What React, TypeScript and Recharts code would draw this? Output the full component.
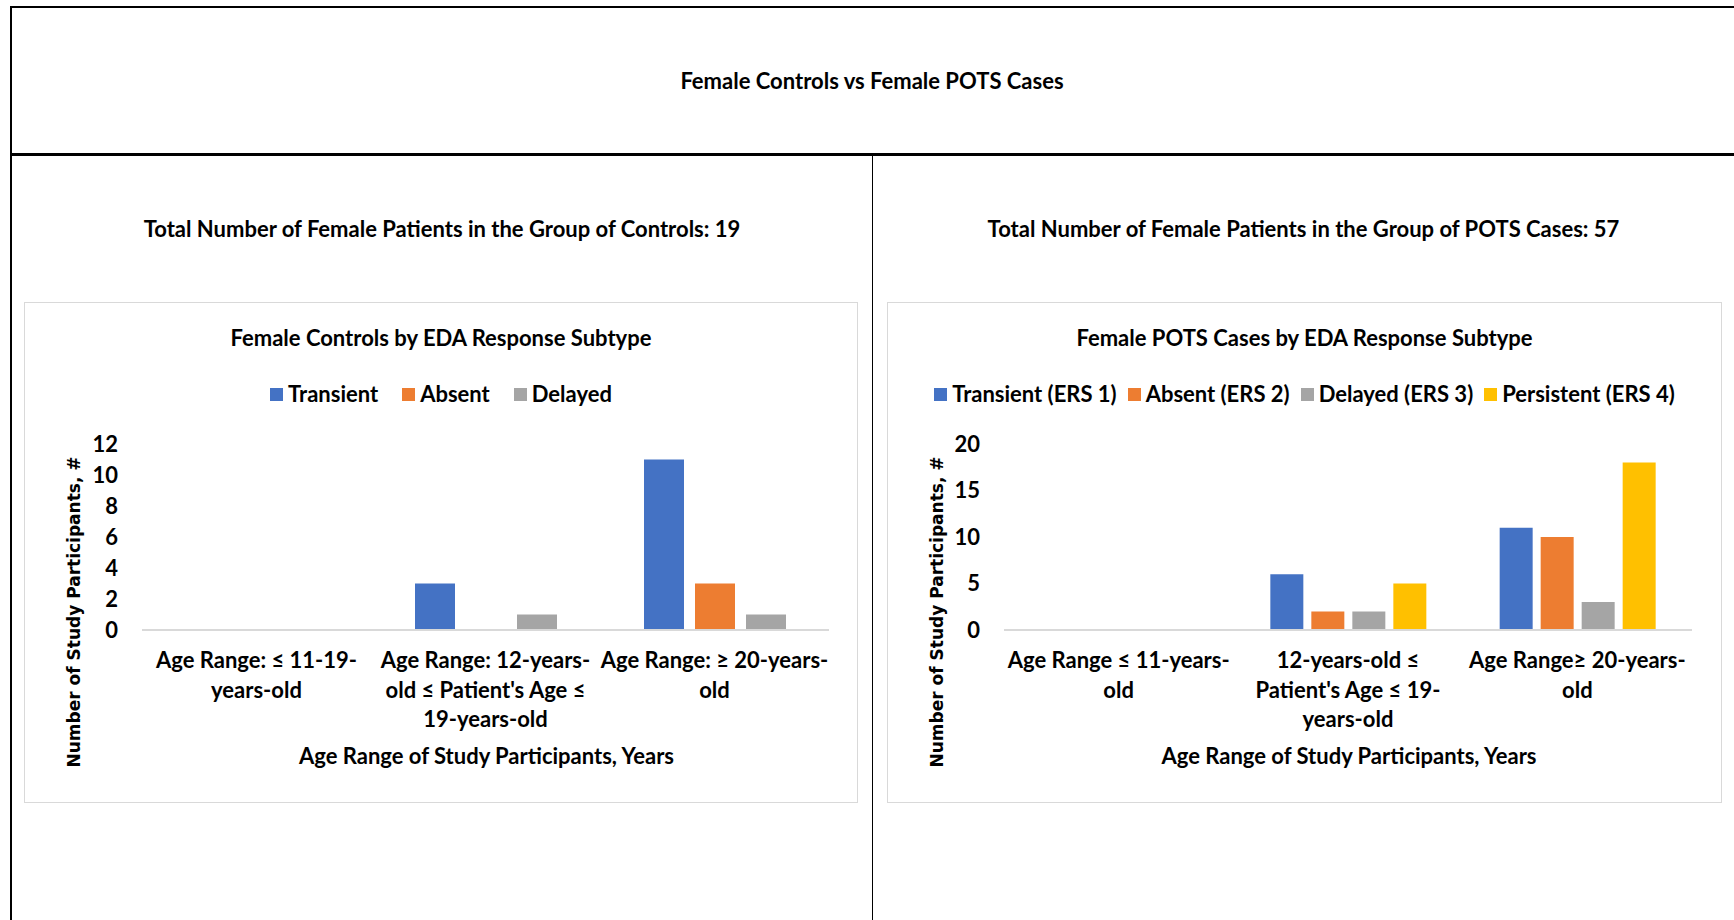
import { BarChart, Bar, XAxis, YAxis } from 'recharts';

const controlCategories = [
  ['Age Range: ≤ 11-19-', 'years-old'],
  ['Age Range: 12-years-', "old ≤ Patient's Age ≤", '19-years-old'],
  ['Age Range: ≥ 20-years-', 'old'],
];
const controlTransient = [0, 3, 11];
const controlAbsent = [0, 0, 3];
const controlDelayed = [0, 1, 1];
const controlTicks = [0, 2, 4, 6, 8, 10, 12];

const potsCategories = [
  ['Age Range ≤ 11-years-', 'old'],
  ['12-years-old ≤', "Patient's Age ≤ 19-", 'years-old'],
  ['Age Range≥ 20-years-', 'old'],
];
const potsTransient = [0, 6, 11];
const potsAbsent = [0, 2, 10];
const potsDelayed = [0, 2, 3];
const potsPersistent = [0, 5, 18];
const potsTicks = [0, 5, 10, 15, 20];

const BLUE = '#4472C4';
const ORANGE = '#ED7D31';
const GRAY = '#A5A5A5';
const YELLOW = '#FFC000';
const FONT = 'Lato, "Open Sans", sans-serif';
const FS = 22;

interface Series {
  key: string;
  name: string;
  color: string;
  values: number[];
}

interface PanelProps {
  left: number;
  top: number;
  width: number;
  height: number;
  title: string;
  categories: string[][];
  series: Series[];
  ticks: number[];
  barSize: number;
  barGap: number;
  legendGap: number;
  plotLeft: number;
  plotRight: number;
}

function CategoryTick(props: any) {
  const { x, y, payload, lines } = props;
  const idx = payload.index ?? 0;
  const rows: string[] = lines[idx] ?? [String(payload.value)];
  return (
    <text x={x} y={y} textAnchor="middle" fill="#000" fontFamily={FONT} fontWeight={700} fontSize={FS}>
      {rows.map((r, i) => (
        <tspan key={i} x={x} dy={i === 0 ? 38 : 29.5}>
          {r}
        </tspan>
      ))}
    </text>
  );
}

function Panel(p: PanelProps) {
  const data = p.categories.map((lines, i) => {
    const row: Record<string, any> = { name: lines.join(' ') };
    p.series.forEach((s) => (row[s.key] = s.values[i]));
    return row;
  });
  const yMax = p.ticks[p.ticks.length - 1];
  const yAxisWidth = 60;

  return (
    <div
      style={{
        position: 'absolute',
        left: p.left,
        top: p.top,
        width: p.width,
        height: p.height,
        border: '1px solid #d9d9d9',
        boxSizing: 'border-box',
        background: '#fff',
      }}
    >
      <div
        style={{
          position: 'absolute',
          left: 0,
          width: '100%',
          top: 21,
          textAlign: 'center',
          fontSize: FS,
          lineHeight: '28px',
        }}
      >
        {p.title}
      </div>
      <div
        style={{
          position: 'absolute',
          left: 0,
          width: '100%',
          top: 77,
          display: 'flex',
          justifyContent: 'center',
          gap: p.legendGap,
          fontSize: FS,
          lineHeight: '28px',
        }}
      >
        {p.series.map((s) => (
          <div key={s.key} style={{ display: 'flex', alignItems: 'center', gap: 5 }}>
            <span style={{ width: 13, height: 13, background: s.color, display: 'inline-block' }} />
            <span>{s.name}</span>
          </div>
        ))}
      </div>
      <div
        style={{
          position: 'absolute',
          left: 49,
          top: 309,
          transform: 'translate(-50%, -50%) rotate(-90deg)',
          whiteSpace: 'nowrap',
          fontFamily: '"DejaVu Sans", sans-serif',
          fontWeight: 700,
          fontSize: 17,
        }}
      >
        Number of Study Participants, #
      </div>
      <div
        style={{
          position: 'absolute',
          left: p.plotLeft,
          width: p.width - p.plotLeft - p.plotRight,
          top: 439,
          textAlign: 'center',
          fontSize: FS,
          lineHeight: '28px',
        }}
      >
        Age Range of Study Participants, Years
      </div>
      <div style={{ position: 'absolute', left: -1, top: -1 }}>
        <BarChart
          width={p.width}
          height={p.height}
          data={data}
          barSize={p.barSize}
          barGap={p.barGap}
          margin={{ top: 142, right: p.plotRight, bottom: 53, left: p.plotLeft - yAxisWidth }}
        >
          <XAxis
            dataKey="name"
            axisLine={{ stroke: '#d9d9d9', strokeWidth: 2 }}
            tickLine={false}
            tickSize={0}
            tickMargin={0}
            interval={0}
            height={120}
            tick={<CategoryTick lines={p.categories} />}
          />
          <YAxis
            width={yAxisWidth}
            domain={[0, yMax]}
            ticks={p.ticks}
            interval={0}
            axisLine={false}
            tickLine={false}
            tickSize={0}
            tickMargin={24}
            tick={{ fill: '#000', fontFamily: FONT, fontWeight: 700, fontSize: FS }}
          />
          {p.series.map((s) => (
            <Bar key={s.key} dataKey={s.key} name={s.name} fill={s.color} isAnimationActive={false} />
          ))}
        </BarChart>
      </div>
    </div>
  );
}

export default function App() {
  const controlSeries: Series[] = [
    { key: 'transient', name: 'Transient', color: BLUE, values: controlTransient },
    { key: 'absent', name: 'Absent', color: ORANGE, values: controlAbsent },
    { key: 'delayed', name: 'Delayed', color: GRAY, values: controlDelayed },
  ];
  const potsSeries: Series[] = [
    { key: 'transient', name: 'Transient (ERS 1)', color: BLUE, values: potsTransient },
    { key: 'absent', name: 'Absent (ERS 2)', color: ORANGE, values: potsAbsent },
    { key: 'delayed', name: 'Delayed (ERS 3)', color: GRAY, values: potsDelayed },
    { key: 'persistent', name: 'Persistent (ERS 4)', color: YELLOW, values: potsPersistent },
  ];

  return (
    <div
      style={{
        position: 'absolute',
        left: 0,
        top: 0,
        width: 1734,
        height: 920,
        overflow: 'hidden',
        background: '#fff',
        fontFamily: FONT,
        fontWeight: 700,
        color: '#000',
      }}
    >
      {/* outer frame */}
      <div style={{ position: 'absolute', left: 10, top: 6, width: 1724, height: 2, background: '#000' }} />
      <div style={{ position: 'absolute', left: 10, top: 6, width: 2, height: 914, background: '#000' }} />
      <div style={{ position: 'absolute', left: 10, top: 153, width: 1724, height: 3, background: '#000' }} />
      <div style={{ position: 'absolute', left: 872, top: 155, width: 1, height: 765, background: '#000' }} />

      <div style={{ position: 'absolute', left: 10, width: 1724, top: 67, textAlign: 'center', fontSize: FS, lineHeight: '28px' }}>
        Female Controls vs Female POTS Cases
      </div>
      <div style={{ position: 'absolute', left: 12, width: 860, top: 215, textAlign: 'center', fontSize: FS, lineHeight: '28px' }}>
        Total Number of Female Patients in the Group of Controls: 19
      </div>
      <div style={{ position: 'absolute', left: 873, width: 861, top: 215, textAlign: 'center', fontSize: FS, lineHeight: '28px' }}>
        Total Number of Female Patients in the Group of POTS Cases: 57
      </div>

      <Panel
        left={24}
        top={302}
        width={834}
        height={501}
        title="Female Controls by EDA Response Subtype"
        categories={controlCategories}
        series={controlSeries}
        ticks={controlTicks}
        barSize={40}
        barGap={11}
        legendGap={24}
        plotLeft={118}
        plotRight={29}
      />
      <Panel
        left={887}
        top={302}
        width={835}
        height={501}
        title="Female POTS Cases by EDA Response Subtype"
        categories={potsCategories}
        series={potsSeries}
        ticks={potsTicks}
        barSize={33}
        barGap={8}
        legendGap={11}
        plotLeft={117}
        plotRight={30}
      />
    </div>
  );
}
